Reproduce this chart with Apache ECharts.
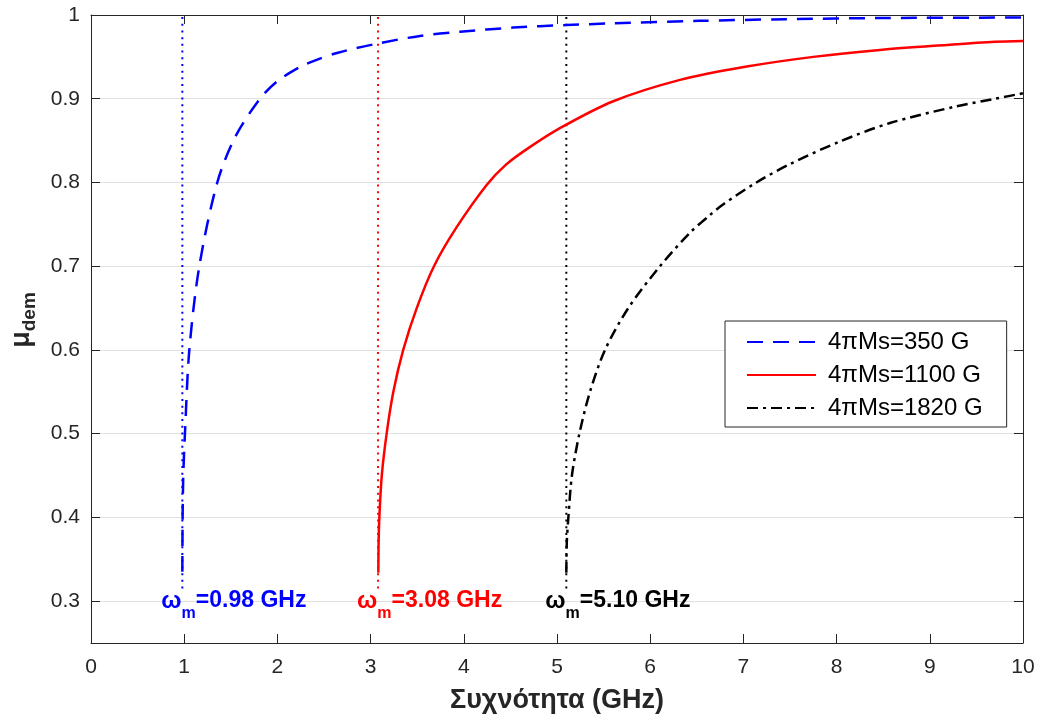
<!DOCTYPE html>
<html>
<head>
<meta charset="utf-8">
<script src="https://cdn.jsdelivr.net/npm/echarts@6/dist/echarts.min.js"></script>
<style>
  html, body { margin: 0; padding: 0; background: #fff; }
  #chart { width: 1038px; height: 722px; }
</style>
</head>
<body>
<div id="chart"></div>
<script>
// Demagnetisation factor vs frequency for three saturation magnetisations

const seriesNames = ['4πMs=350 G', '4πMs=1100 G', '4πMs=1820 G'];
const seriesColors = ['#0000ff', '#ff0000', '#000000'];

// cut-off frequencies (GHz) and their annotation text
const omegaM = [0.98, 3.08, 5.10];
const omegaText = ['0.98', '3.08', '5.10'];

// 4πMs = 350 G
const freq350 = [0.98, 0.983, 0.99, 1.008, 1.055, 1.162, 1.355, 1.55, 1.813, 2.0, 2.243, 2.386, 2.65, 3.08, 3.53, 3.96, 4.53, 5.10, 5.60, 6.53, 7.46, 8.50, 9.86, 10];
const mu350   = [0.335, 0.40, 0.45, 0.50, 0.60, 0.70, 0.80, 0.855, 0.90, 0.921, 0.938, 0.945, 0.955, 0.966, 0.975, 0.980, 0.985, 0.988, 0.990, 0.993, 0.995, 0.9964, 0.997, 0.9972];

// 4πMs = 1100 G
const freq1100 = [3.083, 3.086, 3.094, 3.12, 3.172, 3.244, 3.35, 3.495, 3.68, 3.92, 4.245, 4.45, 4.692, 5.05, 5.604, 6.32, 7.035, 7.75, 8.466, 9.18, 9.70, 10];
const mu1100   = [0.334, 0.37, 0.40, 0.45, 0.50, 0.55, 0.60, 0.65, 0.70, 0.746, 0.797, 0.821, 0.841, 0.866, 0.897, 0.9225, 0.9384, 0.950, 0.9583, 0.9642, 0.968, 0.969];

// 4πMs = 1820 G
const freq1820 = [5.10, 5.105, 5.122, 5.16, 5.24, 5.354, 5.515, 5.765, 6.105, 6.427, 6.64, 6.785, 7.14, 7.5, 8.036, 8.573, 9.288, 9.70, 10];
const mu1820   = [0.334, 0.37, 0.40, 0.45, 0.50, 0.55, 0.60, 0.65, 0.70, 0.740, 0.761, 0.774, 0.800, 0.822, 0.849, 0.871, 0.891, 0.900, 0.9065];

// axis ranges
const xRange = [0, 10];
const yRange = [0.25, 1];
const markerTop = 1;
const markerBottom = 0.315;
const annotationY = 0.3;

const FONT = '"Liberation Sans", Arial, Helvetica, sans-serif';
const INK = '#262626';

const curveData = [
  freq350.map((f, i) => [f, mu350[i]]),
  freq1100.map((f, i) => [f, mu1100[i]]),
  freq1820.map((f, i) => [f, mu1820[i]])
];
const dashTypes = [[16, 10], 'solid', [11, 5, 3, 5]];

const series = [];

curveData.forEach((data, i) => {
  series.push({
    name: seriesNames[i],
    type: 'line',
    xAxisIndex: 0,
    yAxisIndex: 0,
    data: data,
    symbol: 'none',
    smooth: 0.3,
    lineStyle: { color: seriesColors[i], width: 2.5, type: dashTypes[i] },
    itemStyle: { color: seriesColors[i] },
    z: 5
  });
});

// dotted cut-off markers
omegaM.forEach((w, i) => {
  series.push({
    name: 'marker' + i,
    type: 'line',
    xAxisIndex: 0,
    yAxisIndex: 0,
    data: [[w, markerBottom], [w, markerTop]],
    symbol: 'none',
    lineStyle: { color: seriesColors[i], width: 2, type: [2, 4.7] },
    z: 4,
    silent: true
  });
});

// ω_m annotations
series.push({
  name: 'annotations',
  type: 'scatter',
  xAxisIndex: 0,
  yAxisIndex: 0,
  symbolSize: 0,
  silent: true,
  z: 6,
  itemStyle: { opacity: 1 },
  data: omegaM.map((w, i) => ({
    value: [w, annotationY],
    label: {
      show: true,
      position: 'right',
      distance: 0,
      offset: [-21, 0],
      opacity: 1,
      formatter: '{w|ω}{m|m}{v|=' + omegaText[i] + ' GHz}',
      rich: {
        w: { fontFamily: FONT, fontWeight: 'bold', fontSize: 24, color: seriesColors[i] },
        m: { fontFamily: FONT, fontWeight: 'bold', fontSize: 16, color: seriesColors[i], padding: [24, 0, 0, 0] },
        v: { fontFamily: FONT, fontWeight: 'bold', fontSize: 23, color: seriesColors[i] }
      }
    }
  }))
});

const tickStyle = { show: true, inside: true, length: 9, lineStyle: { color: INK, width: 1 } };
const lineStyleAxis = { show: true, onZero: false, lineStyle: { color: INK, width: 1 } };

const option = {
  backgroundColor: '#ffffff',
  animation: false,
  grid: { left: 91, right: 15, top: 15, bottom: 79, containLabel: false },
  legend: {
    data: seriesNames,
    orient: 'vertical',
    left: 725,
    top: 321,
    padding: [9, 24, 7, 21],
    itemWidth: 69,
    itemHeight: 24,
    itemGap: 9,
    backgroundColor: '#ffffff',
    borderColor: INK,
    borderWidth: 1,
    borderRadius: 0,
    itemStyle: { opacity: 0 },
    textStyle: { fontFamily: FONT, fontSize: 24, color: '#000', lineHeight: 24, padding: [0, 0, 0, 7] }
  },
  xAxis: [
    {
      type: 'value', position: 'bottom',
      min: xRange[0], max: xRange[1], interval: 1,
      name: 'Συχνότητα (GHz)',
      nameLocation: 'middle',
      nameGap: 44,
      nameTextStyle: { fontFamily: FONT, fontWeight: 'bold', fontSize: 27, color: INK },
      axisLine: lineStyleAxis,
      axisTick: tickStyle,
      axisLabel: { fontFamily: FONT, fontSize: 21, color: INK, margin: 14 },
      splitLine: { show: false }
    },
    {
      type: 'value', position: 'top',
      min: xRange[0], max: xRange[1], interval: 1,
      axisLine: lineStyleAxis,
      axisTick: tickStyle,
      axisLabel: { show: false },
      splitLine: { show: false }
    }
  ],
  yAxis: [
    {
      type: 'value', position: 'left',
      min: yRange[0], max: yRange[1],
      splitNumber: 8, minInterval: 0.1, maxInterval: 0.1,
      name: '{a|μ}{b|dem}',
      nameLocation: 'middle',
      nameRotate: 90,
      nameGap: 52,
      nameTextStyle: {
        padding: [0, 0, 0, 18],
        rich: {
          a: { fontFamily: FONT, fontWeight: 'bold', fontSize: 27, color: INK },
          b: { fontFamily: FONT, fontWeight: 'bold', fontSize: 19, color: INK, padding: [16, 0, 0, 0] }
        }
      },
      axisLine: lineStyleAxis,
      axisTick: tickStyle,
      axisLabel: { fontFamily: FONT, fontSize: 21, color: INK, margin: 11, showMinLabel: false },
      splitLine: { show: true, lineStyle: { color: '#e0e0e0', width: 1 } }
    },
    {
      type: 'value', position: 'right',
      min: yRange[0], max: yRange[1],
      splitNumber: 8, minInterval: 0.1, maxInterval: 0.1,
      axisLine: lineStyleAxis,
      axisTick: tickStyle,
      axisLabel: { show: false },
      splitLine: { show: false }
    }
  ],
  series: series
};

const chart = echarts.init(document.getElementById('chart'), null, { renderer: 'canvas' });
chart.setOption(option);
</script>
</body>
</html>
